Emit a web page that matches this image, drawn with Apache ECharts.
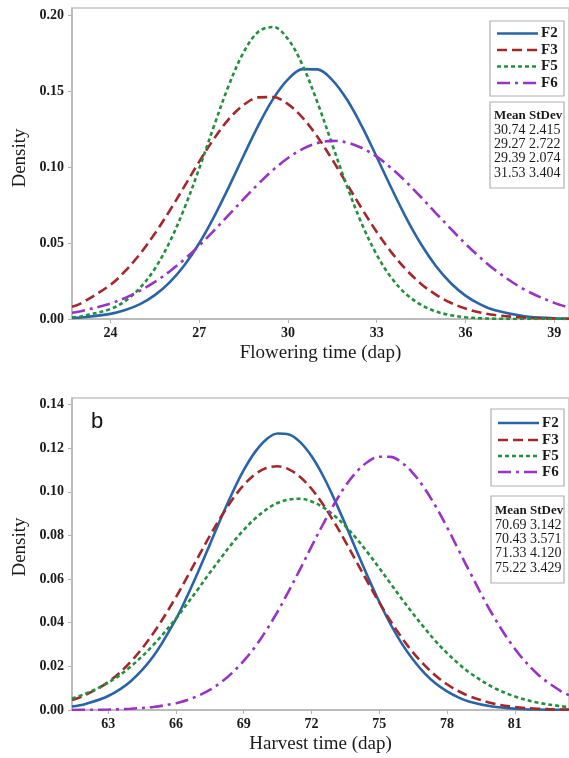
<!DOCTYPE html>
<html>
<head>
<meta charset="utf-8">
<script src="https://cdn.jsdelivr.net/npm/echarts@6/dist/echarts.min.js"></script>
<style>
html,body{margin:0;padding:0;background:#fff;}
#c{width:569px;height:758px;}
</style>
</head>
<body>
<div id="c"></div>
<script>
// ---- Panel a: Flowering time ----
const flowX  = [22.7, 23, 24, 24.5, 25, 25.5, 26, 26.5, 27, 27.5, 28, 28.5, 29, 29.5, 30, 30.5, 31, 31.5, 32, 32.5, 33, 33.5, 34, 34.5, 35, 35.5, 36, 36.5, 37, 38, 39, 39.5];
const flowF2 = [0.00065, 0.00097, 0.00336, 0.00587, 0.0098, 0.0157, 0.0241, 0.0354, 0.0498, 0.0672, 0.0868, 0.1074, 0.1274, 0.1448, 0.1576, 0.1644, 0.1642, 0.1572, 0.1442, 0.1267, 0.1066, 0.0860, 0.0664, 0.0492, 0.0349, 0.0237, 0.0154, 0.0096, 0.0057, 0.0018, 0.0005, 0.0002];
const flowF3 = [0.0080, 0.0103, 0.0225, 0.0316, 0.0428, 0.0562, 0.0712, 0.0873, 0.1035, 0.1186, 0.1315, 0.1408, 0.1458, 0.1460, 0.1414, 0.1323, 0.1198, 0.1048, 0.0886, 0.0725, 0.0573, 0.0438, 0.0324, 0.0231, 0.0160, 0.0107, 0.0069, 0.0043, 0.0026, 0.0009, 0.0003, 0.0001];
const flowF5 = [0.0011, 0.0017, 0.0066, 0.0119, 0.0205, 0.0331, 0.0506, 0.0729, 0.0990, 0.1270, 0.1537, 0.1754, 0.1890, 0.1921, 0.1842, 0.1667, 0.1423, 0.1146, 0.0871, 0.0625, 0.0423, 0.0270, 0.0163, 0.0093, 0.0050, 0.0025, 0.0012, 0.0005, 0.0002, 0.0000, 0.0000, 0.0000];
const flowF6 = [0.0041, 0.0051, 0.0102, 0.0139, 0.0186, 0.0244, 0.0313, 0.0393, 0.0483, 0.0582, 0.0685, 0.0789, 0.0889, 0.0981, 0.1059, 0.1119, 0.1158, 0.1172, 0.1161, 0.1125, 0.1068, 0.0991, 0.0901, 0.0801, 0.0697, 0.0594, 0.0495, 0.0404, 0.0322, 0.0193, 0.0106, 0.0076];
const flowXTicks = [24, 27, 30, 33, 36, 39];
const flowYTicks = [0, 0.05, 0.10, 0.15, 0.20];
const flowMeans = ['30.74', '29.27', '29.39', '31.53'];
const flowSDs   = ['2.415', '2.722', '2.074', '3.404'];

// ---- Panel b: Harvest time ----
const harvX  = [61.4, 62, 63, 64, 65, 66, 66.5, 67, 67.5, 68, 68.5, 69, 69.5, 70, 70.5, 71, 71.5, 72, 72.5, 73, 73.5, 74, 74.5, 75, 75.5, 76, 76.5, 77, 77.5, 78, 78.5, 79, 80, 81, 82, 83, 83.4];
const harvF2 = [0.0016, 0.0028, 0.0064, 0.0132, 0.0246, 0.0417, 0.0522, 0.0637, 0.0758, 0.0880, 0.0996, 0.1099, 0.1182, 0.1240, 0.1267, 0.1263, 0.1228, 0.1164, 0.1076, 0.0969, 0.0851, 0.0729, 0.0609, 0.0496, 0.0393, 0.0304, 0.0230, 0.0169, 0.0121, 0.0085, 0.0058, 0.0038, 0.0016, 0.0006, 0.0002, 0.0001, 0.0000];
const harvF3 = [0.0046, 0.0069, 0.0128, 0.0221, 0.0352, 0.0517, 0.0610, 0.0704, 0.0798, 0.0886, 0.0965, 0.1031, 0.1080, 0.1109, 0.1117, 0.1103, 0.1068, 0.1014, 0.0944, 0.0862, 0.0772, 0.0678, 0.0584, 0.0493, 0.0408, 0.0331, 0.0263, 0.0206, 0.0157, 0.0118, 0.0087, 0.0063, 0.0031, 0.0014, 0.0006, 0.0002, 0.0002];
const harvF5 = [0.0053, 0.0075, 0.0125, 0.0199, 0.0298, 0.0419, 0.0487, 0.0557, 0.0629, 0.0698, 0.0765, 0.0825, 0.0877, 0.0919, 0.0949, 0.0965, 0.0968, 0.0956, 0.0930, 0.0892, 0.0843, 0.0785, 0.0720, 0.0651, 0.0580, 0.0509, 0.0441, 0.0376, 0.0315, 0.0261, 0.0213, 0.0171, 0.0106, 0.0062, 0.0034, 0.0018, 0.0013];
const harvF6 = [0.0000, 0.0001, 0.0002, 0.0006, 0.0014, 0.0031, 0.0046, 0.0066, 0.0092, 0.0127, 0.0171, 0.0225, 0.0289, 0.0365, 0.0451, 0.0546, 0.0646, 0.0749, 0.0849, 0.0943, 0.1026, 0.1092, 0.1138, 0.1161, 0.1160, 0.1134, 0.1085, 0.1017, 0.0933, 0.0838, 0.0736, 0.0634, 0.0440, 0.0281, 0.0165, 0.0089, 0.0068];
const harvXTicks = [63, 66, 69, 72, 75, 78, 81];
const harvYTicks = [0, 0.02, 0.04, 0.06, 0.08, 0.10, 0.12, 0.14];
const harvMeans = ['70.69', '70.43', '71.33', '75.22'];
const harvSDs   = ['3.142', '3.571', '4.120', '3.429'];

const names = ['F2', 'F3', 'F5', 'F6'];

const colors = {F2: '#2a64a8', F3: '#a4272b', F5: '#22903c', F6: '#9933c4'};
const dashes = {F2: null, F3: [10, 5], F5: [4, 3], F6: [13, 5, 3, 5]};

const SERIF = '"Liberation Serif", "DejaVu Serif", serif';
const axisGray = '#b4b4b4';

function mk(xs, ys, name, idx) {
  return {
    type: 'line', name: name, xAxisIndex: idx, yAxisIndex: idx,
    data: xs.map((x, i) => [x, ys[i]]),
    showSymbol: false, symbol: 'none', smooth: 0.35,
    lineStyle: {color: colors[name], width: 2.6, type: dashes[name] || 'solid'},
    itemStyle: {color: colors[name]},
    emphasis: {disabled: true}, animation: false
  };
}

function xAxisDef(idx, min, max, ticks, title) {
  return {
    type: 'value', gridIndex: idx, min: min, max: max,
    axisLine: {show: true, lineStyle: {color: axisGray, width: 1.5}},
    axisTick: {show: true, length: 4, customValues: ticks, lineStyle: {color: axisGray}},
    axisLabel: {customValues: ticks, color: '#1a1a1a', fontFamily: SERIF, fontWeight: 'bold', fontSize: 14, margin: 7},
    splitLine: {show: false},
    name: title, nameLocation: 'middle', nameGap: 25,
    nameTextStyle: {color: '#1a1a1a', fontFamily: SERIF, fontSize: 19}
  };
}
function yAxisDef(idx, max, ticks) {
  return {
    type: 'value', gridIndex: idx, min: 0, max: max,
    axisLine: {show: true, lineStyle: {color: axisGray, width: 1.5}},
    axisTick: {show: true, length: 4, customValues: ticks, lineStyle: {color: axisGray}},
    axisLabel: {customValues: ticks, formatter: v => v.toFixed(2), color: '#1a1a1a', fontFamily: SERIF, fontWeight: 'bold', fontSize: 14, margin: 8},
    splitLine: {show: false}
  };
}

function statsText(means, sds) {
  const lines = ['{h|Mean StDev}'];
  for (let i = 0; i < means.length; i++) lines.push('{n|' + means[i] + ' ' + sds[i] + '}');
  return lines.join('\n');
}

function legendGraphics(bx, by, bw, bh, rowYs) {
  const els = [{type: 'rect', shape: {x: bx, y: by, width: bw, height: bh},
    style: {fill: '#fff', stroke: '#b0b0b0', lineWidth: 1.2}, z: 10}];
  names.forEach((n, i) => {
    els.push({type: 'line', shape: {x1: bx + 7, y1: rowYs[i], x2: bx + 48, y2: rowYs[i]},
      style: {stroke: colors[n], lineWidth: 2.6, lineDash: dashes[n]}, z: 11});
    els.push({type: 'text', x: bx + 51, y: rowYs[i],
      style: {text: n, font: 'bold 15px ' + SERIF, fill: '#1a1a1a', verticalAlign: 'middle'}, z: 11});
  });
  return els;
}

const chart = echarts.init(document.getElementById('c'), null, {renderer: 'canvas'});
chart.setOption({
  animation: false,
  backgroundColor: '#fff',
  grid: [
    {left: 72, top: 8, width: 500, height: 311, show: true, borderColor: '#c4c4c4', borderWidth: 1.5},
    {left: 72, top: 398, width: 500, height: 312, show: true, borderColor: '#c4c4c4', borderWidth: 1.5}
  ],
  xAxis: [
    xAxisDef(0, 22.7, 39.5, flowXTicks, 'Flowering time (dap)'),
    xAxisDef(1, 61.4, 83.4, harvXTicks, 'Harvest time (dap)')
  ],
  yAxis: [
    yAxisDef(0, 0.2046, flowYTicks),
    yAxisDef(1, 0.143, harvYTicks)
  ],
  series: [
    mk(flowX, flowF2, 'F2', 0), mk(flowX, flowF3, 'F3', 0), mk(flowX, flowF5, 'F5', 0), mk(flowX, flowF6, 'F6', 0),
    mk(harvX, harvF2, 'F2', 1), mk(harvX, harvF3, 'F3', 1), mk(harvX, harvF5, 'F5', 1), mk(harvX, harvF6, 'F6', 1)
  ],
  graphic: [
    {type: 'text', x: 20, y: 158, rotation: Math.PI / 2,
     style: {text: 'Density', font: '19px ' + SERIF, fill: '#1a1a1a', align: 'center', verticalAlign: 'middle'}},
    {type: 'text', x: 20, y: 547, rotation: Math.PI / 2,
     style: {text: 'Density', font: '19px ' + SERIF, fill: '#1a1a1a', align: 'center', verticalAlign: 'middle'}},
    {type: 'text', x: 97, y: 422,
     style: {text: 'b', font: '22px "Liberation Sans", "DejaVu Sans", sans-serif', fill: '#111', align: 'center', verticalAlign: 'middle'}},
    ...legendGraphics(490, 21, 74, 75, [33.5, 50, 66.5, 83]),
    ...legendGraphics(491, 409, 73, 77, [423, 440, 456, 472]),
    {type: 'rect', shape: {x: 490, y: 102, width: 74, height: 86}, z: 10,
     style: {fill: '#fff', stroke: '#b0b0b0', lineWidth: 1.2}},
    {type: 'text', x: 494, y: 109, z: 11,
     style: {text: statsText(flowMeans, flowSDs), fill: '#1a1a1a',
       rich: {h: {fontFamily: SERIF, fontWeight: 'bold', fontSize: 13, lineHeight: 14.2},
              n: {fontFamily: SERIF, fontSize: 14, lineHeight: 14.2}}}},
    {type: 'rect', shape: {x: 491, y: 496, width: 73, height: 87}, z: 10,
     style: {fill: '#fff', stroke: '#b0b0b0', lineWidth: 1.2}},
    {type: 'text', x: 495, y: 504, z: 11,
     style: {text: statsText(harvMeans, harvSDs), fill: '#1a1a1a',
       rich: {h: {fontFamily: SERIF, fontWeight: 'bold', fontSize: 13, lineHeight: 14.2},
              n: {fontFamily: SERIF, fontSize: 14, lineHeight: 14.2}}}}
  ]
});
</script>
</body>
</html>
